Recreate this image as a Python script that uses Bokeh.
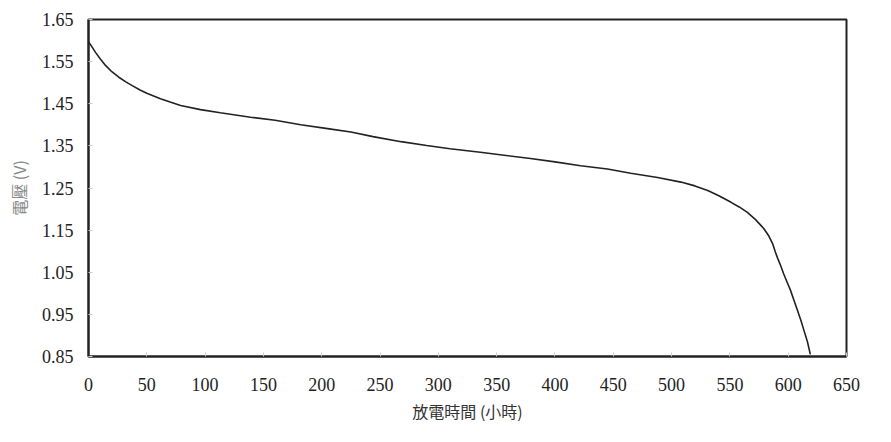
from bokeh.plotting import figure
from bokeh.models import Range1d, FixedTicker
from bokeh.embed import file_html
from bokeh.resources import INLINE

hours = [0, 3, 6, 10, 14.6, 20, 26, 32, 37.5, 44.6, 50, 61.7, 70, 79, 96, 113,
         139, 160, 182, 205, 225, 244, 268, 290, 310, 336, 353, 379, 400, 422,
         445, 465, 488, 508, 520, 531, 541, 551, 558, 565, 572, 579, 583, 586.6,
         589, 591, 593.5, 596, 599, 602, 605, 608, 611, 613.5, 616.5, 619]
volts = [1.597, 1.585, 1.572, 1.557, 1.541, 1.526, 1.513, 1.502, 1.493, 1.482,
         1.475, 1.462, 1.454, 1.446, 1.436, 1.4285, 1.418, 1.411, 1.400, 1.391,
         1.383, 1.372, 1.360, 1.351, 1.343, 1.335, 1.329, 1.320, 1.312, 1.303,
         1.295, 1.285, 1.275, 1.264, 1.255, 1.244, 1.231, 1.216, 1.205, 1.192,
         1.175, 1.154, 1.138, 1.118, 1.098, 1.083, 1.066, 1.047, 1.027, 1.007,
         0.983, 0.959, 0.935, 0.912, 0.885, 0.855]
x_ticks = [0, 50, 100, 150, 200, 250, 300, 350, 400, 450, 500, 550, 600, 650]
y_ticks = [0.85, 0.95, 1.05, 1.15, 1.25, 1.35, 1.45, 1.55, 1.65]

p = figure(width=875, height=426, output_backend="svg", toolbar_location=None,
           x_range=Range1d(0, 650), y_range=Range1d(0.85, 1.65),
           min_border_left=88, min_border_right=29, min_border_top=19,
           min_border_bottom=70)
p.line(hours, volts, line_color="#222222", line_width=1.6)

p.xgrid.visible = False
p.ygrid.visible = False
p.outline_line_color = "#222222"
p.outline_line_width = 2
p.background_fill_color = "white"
p.border_fill_color = "white"

p.xaxis.ticker = FixedTicker(ticks=x_ticks)
p.yaxis.ticker = FixedTicker(ticks=y_ticks)
p.yaxis.major_label_overrides = {v: f"{v:.2f}" for v in y_ticks}
for ax in (p.xaxis, p.yaxis):
    ax.axis_line_color = "#222222"
    ax.axis_line_width = 2
    ax.major_tick_in = 4
    ax.major_tick_out = 0
    ax.major_tick_line_color = "#cccccc"
    ax.minor_tick_line_color = None
    ax.major_label_text_font = "Liberation Serif"
    ax.major_label_text_font_size = "18px"
    ax.major_label_text_color = "#222222"
    ax.axis_label_text_font = "Noto Sans CJK TC"
    ax.axis_label_text_font_style = "normal"
    ax.axis_label_text_font_size = "16px"

p.xaxis.axis_label = "放電時間 (小時)"
p.xaxis.axis_label_text_color = "#333333"
p.xaxis.major_label_standoff = 21
p.xaxis.axis_label_standoff = 5
p.yaxis.axis_label = "電壓 (V)"
p.yaxis.axis_label_text_color = "#888888"
p.yaxis.major_label_standoff = 15
p.yaxis.axis_label_standoff = 8

open("out.html", "w").write(file_html(p, INLINE))
